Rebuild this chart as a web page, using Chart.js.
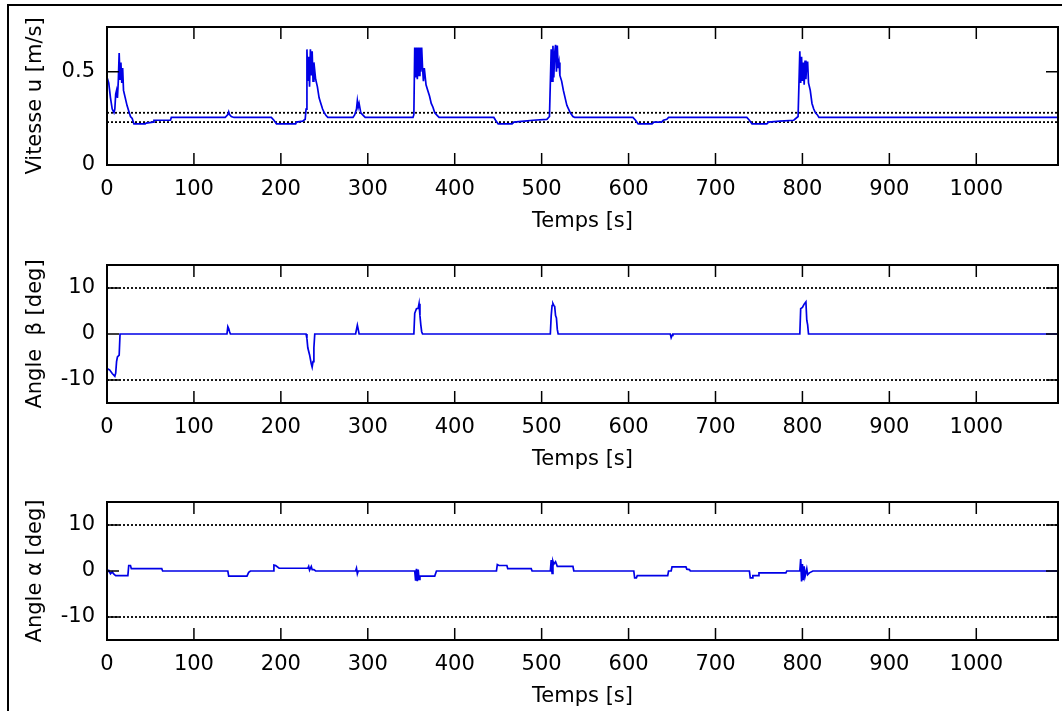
<!DOCTYPE html>
<html>
<head>
<meta charset="utf-8">
<script src="https://cdn.jsdelivr.net/npm/chart.js@4"></script>
<style>
body{margin:0;background:#fff;width:1062px;height:711px;overflow:hidden;position:relative}
#cadre{position:absolute;left:7px;top:4px;width:1070px;height:720px;border-left:2px solid #000;border-top:2px solid #000}
.bloc{position:absolute;left:10px}
</style>
</head>
<body>
<div id="cadre"></div>
<canvas id="g1" class="bloc" width="1050" height="237" style="top:-3px"></canvas>
<canvas id="g2" class="bloc" width="1050" height="237" style="top:235px"></canvas>
<canvas id="g3" class="bloc" width="1050" height="237" style="top:472px"></canvas>
<script>
// donnees
const tMax = 1094
const tempsTicks = [0, 100, 200, 300, 400, 500, 600, 700, 800, 900, 1000]

const tVitesse = [0,2,4,6,8,9,10,11,12,13,14,15,16,17,18,19,21,23,25,27,29,31,44,45,53,54,73,74,
  136,139,140,141,143,146,189,192,195,217,218,225,228,229,230,231,232,233,234,235,236,237,238,240,242,244,246,248,250,252,254,
  283,285,287,288,289,290,292,295,297,352,353,354,355,356,357,358,359,360,361,362,363,364,365,367,369,371,373,375,377,380,382,
  445,447,450,466,468,480,490,506,509,511,512,513,514,515,516,517,518,519,520,521,523,525,527,529,531,533,536,538,
  605,608,611,627,629,638,640,644,646,736,739,742,759,761,774,790,795,797,798,799,800,801,802,803,804,805,806,807,809,811,813,815,817,819,1094]
const vitesse = [0.47,0.44,0.36,0.30,0.28,0.30,0.38,0.40,0.36,0.45,0.60,0.46,0.55,0.44,0.52,0.40,0.36,0.32,0.29,0.26,0.25,0.22,0.22,0.225,0.23,0.24,0.24,0.255,
  0.255,0.27,0.285,0.27,0.26,0.255,0.255,0.24,0.22,0.22,0.23,0.235,0.245,0.30,0.62,0.45,0.58,0.42,0.62,0.48,0.61,0.45,0.55,0.46,0.42,0.36,0.33,0.30,0.28,0.265,0.255,
  0.255,0.27,0.30,0.345,0.31,0.33,0.28,0.265,0.255,0.255,0.27,0.63,0.47,0.63,0.46,0.63,0.48,0.63,0.50,0.63,0.52,0.45,0.52,0.43,0.40,0.37,0.33,0.31,0.28,0.265,0.255,
  0.255,0.24,0.22,0.22,0.23,0.235,0.24,0.245,0.26,0.62,0.45,0.64,0.47,0.60,0.645,0.50,0.64,0.52,0.55,0.48,0.45,0.40,0.36,0.32,0.30,0.28,0.26,0.255,
  0.255,0.24,0.22,0.22,0.23,0.23,0.24,0.245,0.255,0.255,0.24,0.22,0.22,0.23,0.235,0.24,0.26,0.61,0.44,0.58,0.45,0.55,0.43,0.56,0.46,0.55,0.55,0.44,0.40,0.33,0.30,0.28,0.27,0.255,0.255]

const tBeta = [0,3,6,9,10,11,12,14,15,138,139,140,141,142,229,230,231,233,235,236,237,238,239,286,287,288,289,290,
  353,354,356,358,359,360,361,362,363,510,511,512,513,514,515,516,517,518,519,648,649,650,651,797,798,800,802,804,805,806,807,1094]
const beta = [-7.5,-7.8,-8.6,-9.2,-8.5,-6,-5,-4.6,0,0,1.6,1.2,0.5,0,0,-1,-3,-4.5,-6.5,-7.2,-6,-3,0,0,1,1.9,1,0,
  0,4.5,5.5,5.6,6.6,4,2,0.5,0,0,4,6.2,6.6,6.2,6,4,3.5,1,0,0,-0.8,-0.3,0,0,5.5,5.8,6.5,7,3,2,0,0]

const tAlpha = [0,2,4,6,8,10,24,25,27,28,63,64,139,140,161,163,165,191,192,194,198,231,232,233,235,236,238,240,286,287,288,289,
  354,355,356,357,358,359,360,377,379,448,449,451,460,461,488,489,510,511,512,513,514,516,518,536,537,
  606,607,609,610,645,646,649,650,666,667,670,671,739,740,742,743,749,750,781,782,797,798,799,800,801,802,803,805,806,808,812,1094]
const alpha = [-0.3,0.1,-0.6,-0.2,-0.7,-1,-1,1.2,1.2,0.5,0.5,0,0,-1.1,-1.1,-0.3,0,0,1.3,1.2,0.6,0.6,1.0,0.2,1.0,0.3,0.3,0,0,0.6,-0.6,0,
  0,-2.1,0.5,-2.2,0.3,-1.8,-1.1,-1.1,0,0,1.4,1.2,1.2,0.5,0.5,0,0,2.4,-0.5,2.1,1.5,2,1,1,0,
  0,-1.5,-1.5,-1,-1,0,0,0.9,0.9,0.4,0.3,0,0,-1.5,-1.5,-1,-1,-0.4,-0.4,0,0,2.6,-2.3,1.5,-2,1,-1.2,0.5,-0.8,-0.4,0,0]

const bandeVitesse = [0.23, 0.28]
const bandeAngle = [-10, 10]
const ticksVitesse = [0, 0.5]
const ticksAngle = [-10, 0, 10]

const police = {family: 'DejaVu Sans', size: 21}
const largeurAxeY = 97

// cadre et petits traits vers l'interieur, comme sous matlab
const cadreMatlab = {
  id: 'cadreMatlab',
  afterLayout(chart){
    // l'axe y colle toujours au bord gauche de la zone de trace
    const y = chart.scales.y
    y.right = chart.chartArea.left
    y.left = y.right - largeurAxeY
    y.width = largeurAxeY
    y._labelItems = null
  },
  afterDatasetsDraw(chart){
    const {ctx, chartArea: a, scales} = chart
    ctx.save()
    ctx.strokeStyle = '#000'
    ctx.lineWidth = 1.5
    ctx.beginPath()
    scales.x.ticks.forEach(tk => {
      const px = scales.x.getPixelForValue(tk.value)
      ctx.moveTo(px, a.bottom); ctx.lineTo(px, a.bottom - 12)
      ctx.moveTo(px, a.top); ctx.lineTo(px, a.top + 12)
    })
    scales.y.ticks.forEach(tk => {
      const py = scales.y.getPixelForValue(tk.value)
      ctx.moveTo(a.left, py); ctx.lineTo(a.left + 12, py)
      ctx.moveTo(a.right, py); ctx.lineTo(a.right - 12, py)
    })
    ctx.stroke()
    ctx.lineWidth = 2
    ctx.strokeRect(a.left, a.top, a.right - a.left, a.bottom - a.top)
    ctx.restore()
  }
}

function sousGraphe(id, temps, valeurs, bande, yTicks, yMin, yMax, titreY){
  const ctx = document.getElementById(id)
  const pointilles = bande.map(b => ({
    data: [{x: 0, y: b}, {x: tMax, y: b}],
    borderColor: '#000',
    borderWidth: 1.8,
    borderDash: [2, 2],
    pointRadius: 0
  }))
  new Chart(ctx, {
    type: 'line',
    data: {
      datasets: [{
        data: temps.map((t, i) => ({x: t, y: valeurs[i]})),
        borderColor: 'rgb(0,0,230)',
        borderWidth: 1.7,
        pointRadius: 0,
        tension: 0
      }, ...pointilles]
    },
    options: {
      responsive: false,
      animation: false,
      layout: {padding: {top: 30, right: 2, left: 0, bottom: 0}},
      plugins: {legend: {display: false}, tooltip: {enabled: false}},
      scales: {
        x: {
          type: 'linear', min: 0, max: tMax,
          grid: {display: false, drawTicks: false}, border: {display: false},
          afterBuildTicks: s => { s.ticks = tempsTicks.map(v => ({value: v})) },
          afterFit: s => { s.height = 69 },
          ticks: {font: police, color: '#000', padding: 12, autoSkip: false, maxRotation: 0, callback: v => String(v)},
          title: {display: true, text: 'Temps [s]', font: police, color: '#000', padding: {top: 0, bottom: 0}}
        },
        y: {
          type: 'linear', min: yMin, max: yMax,
          grid: {display: false, drawTicks: false}, border: {display: false},
          afterBuildTicks: s => { s.ticks = yTicks.map(v => ({value: v})) },
          afterFit: s => { s.width = largeurAxeY },
          ticks: {font: police, color: '#000', padding: 12, callback: v => String(v)},
          title: {display: true, text: titreY, font: police, color: '#000', padding: {top: 13, bottom: 0}}
        }
      }
    },
    plugins: [cadreMatlab]
  })
}

sousGraphe('g1', tVitesse, vitesse, bandeVitesse, ticksVitesse, 0, 0.74, 'Vitesse u [m/s]')
sousGraphe('g2', tBeta, beta, bandeAngle, ticksAngle, -15, 15, 'Angle  β [deg]')
sousGraphe('g3', tAlpha, alpha, bandeAngle, ticksAngle, -15, 15, 'Angle α [deg]')
</script>
</body>
</html>
